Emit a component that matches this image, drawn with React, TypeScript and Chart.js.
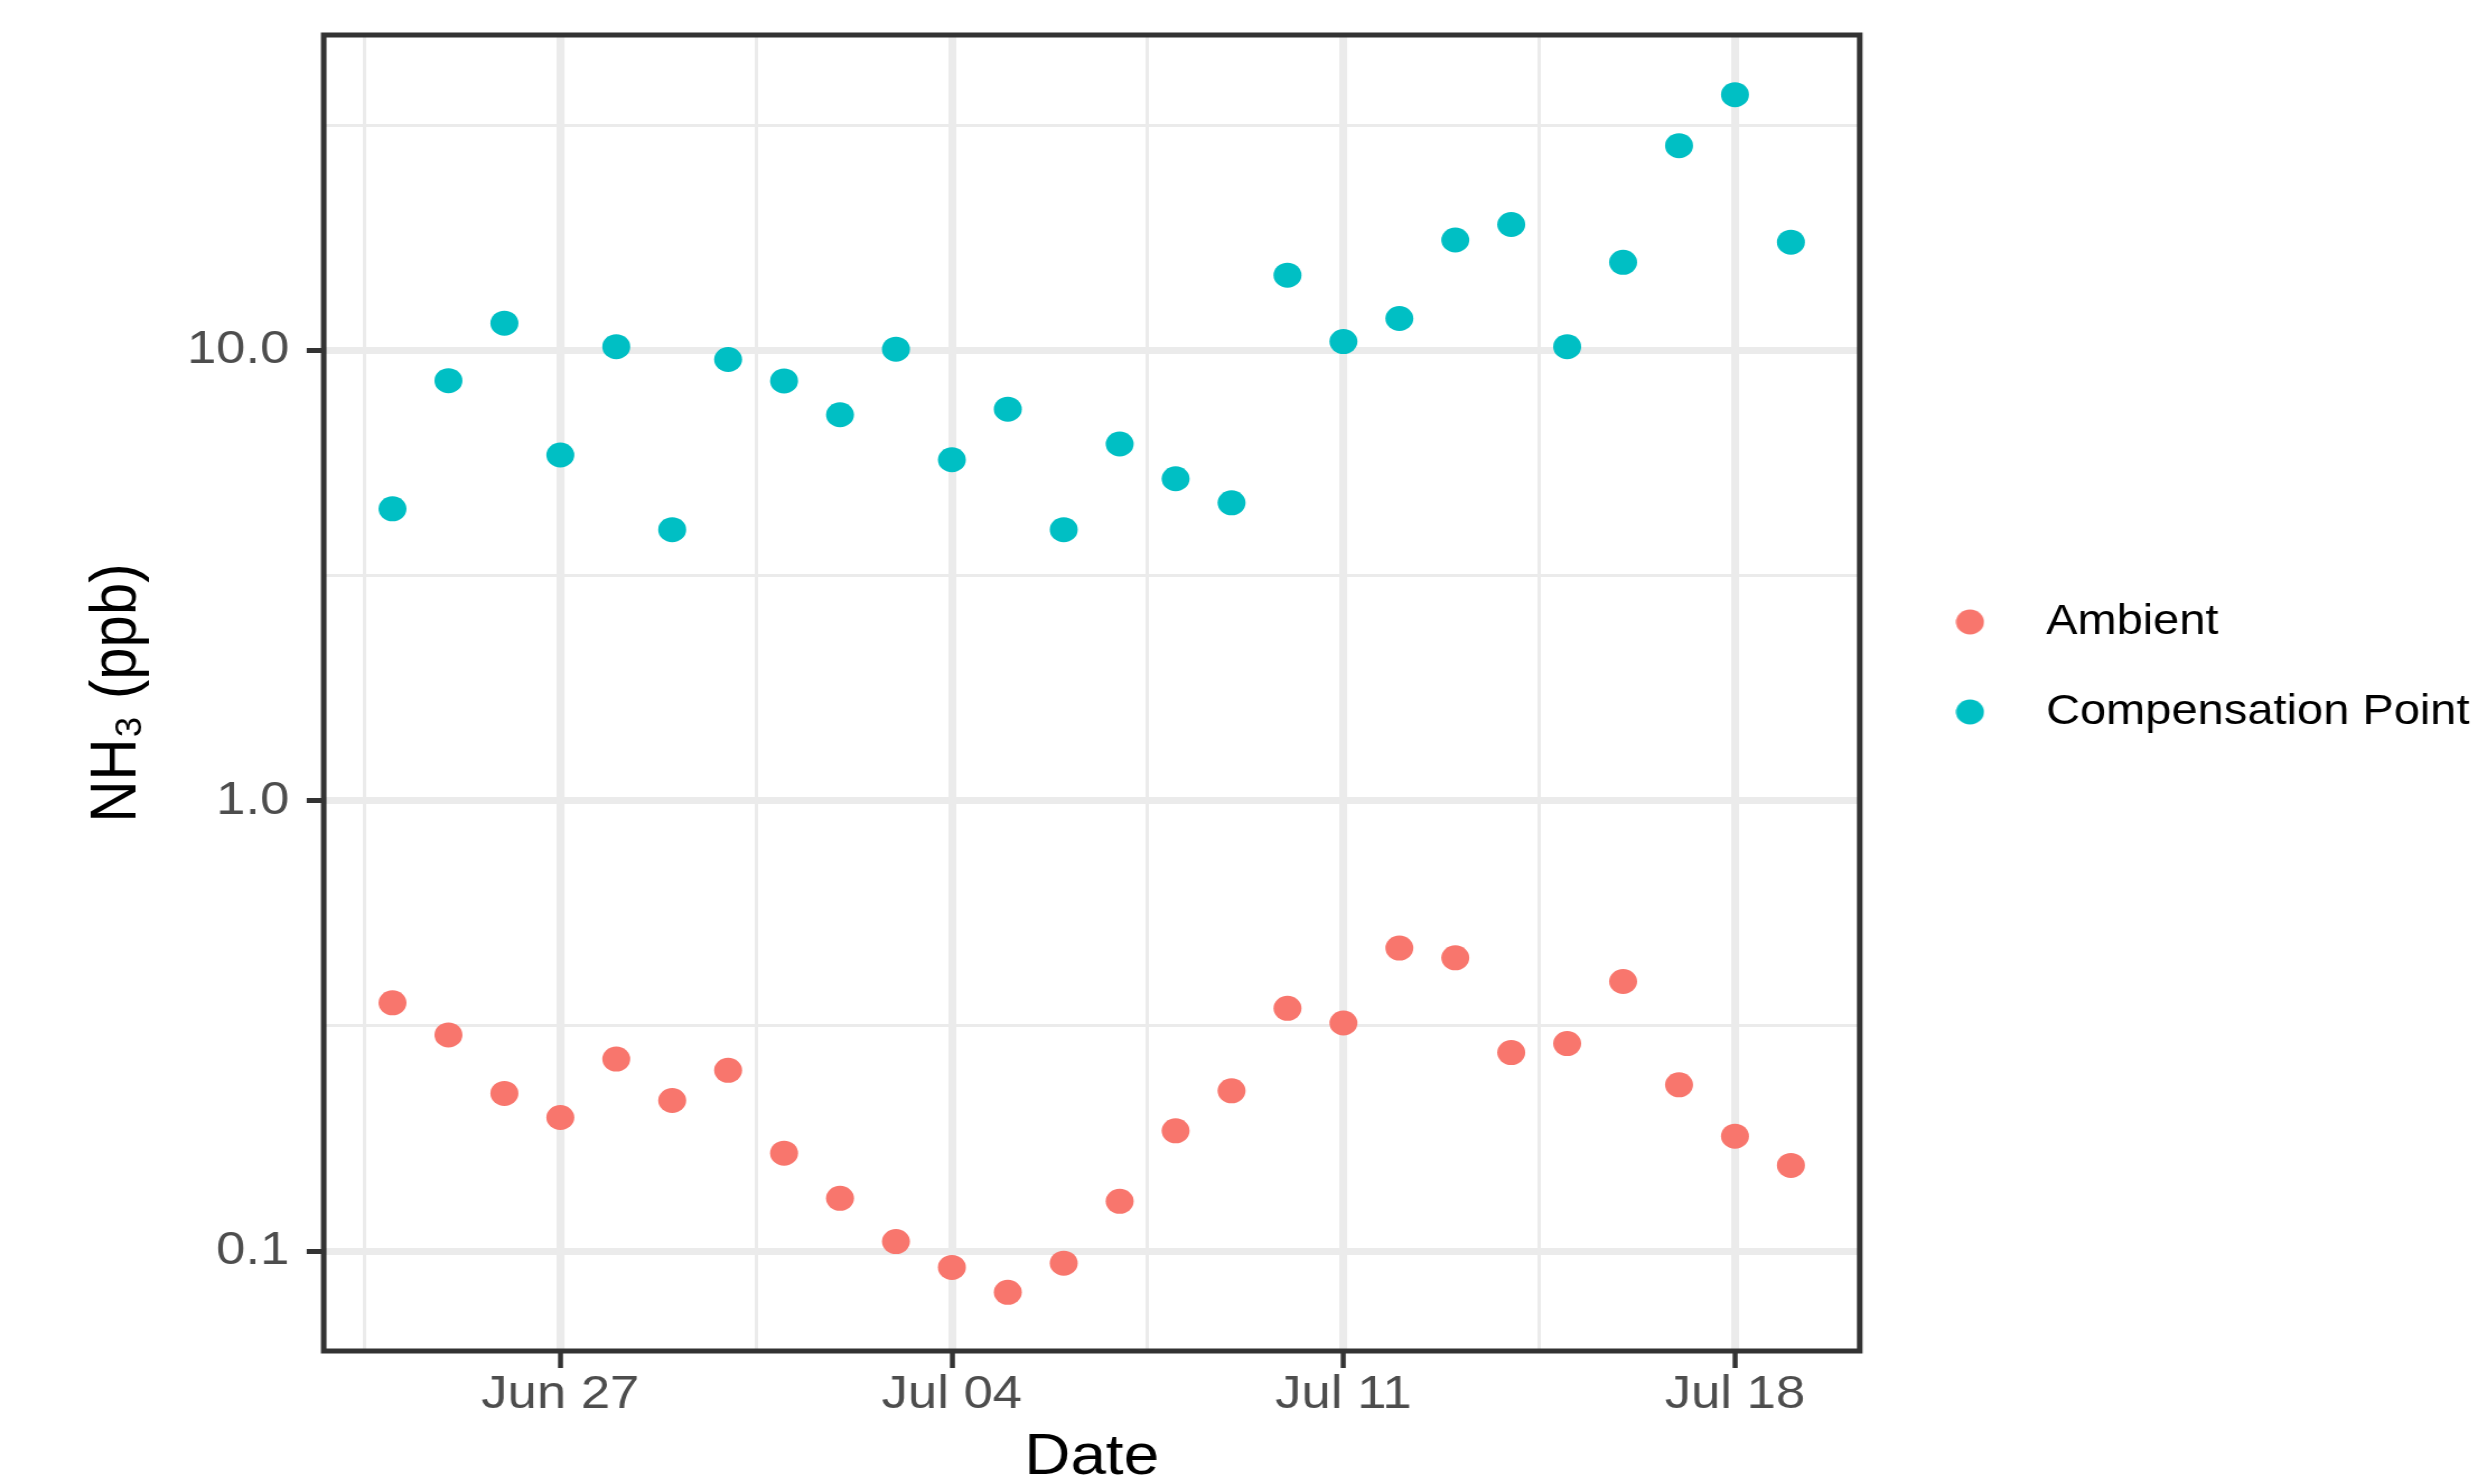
import React, { useEffect, useRef } from 'react';
import { Chart, registerables } from 'chart.js';

Chart.register(...registerables);

// ---------------- data ----------------
const dates = [
  '2019-06-24', '2019-06-25', '2019-06-26', '2019-06-27', '2019-06-28', '2019-06-29', '2019-06-30',
  '2019-07-01', '2019-07-02', '2019-07-03', '2019-07-04', '2019-07-05', '2019-07-06', '2019-07-07',
  '2019-07-08', '2019-07-09', '2019-07-10', '2019-07-11', '2019-07-12', '2019-07-13', '2019-07-14',
  '2019-07-15', '2019-07-16', '2019-07-17', '2019-07-18', '2019-07-19',
];
const ambient = [
  0.356, 0.302, 0.224, 0.198, 0.267, 0.216, 0.252,
  0.165, 0.131, 0.105, 0.092, 0.081, 0.094, 0.129,
  0.185, 0.227, 0.346, 0.321, 0.471, 0.448, 0.276,
  0.289, 0.397, 0.234, 0.180, 0.155,
];
const compensationPoint = [
  4.45, 8.57, 11.5, 5.86, 10.2, 4.0, 9.55,
  8.56, 7.2, 10.07, 5.72, 7.41, 4.0, 6.2,
  5.19, 4.59, 14.7, 10.47, 11.78, 17.6, 19.05,
  10.2, 15.7, 28.5, 37.0, 17.4,
];
const seriesNames = ['Ambient', 'Compensation Point'];
const seriesColors = ['#F8766D', '#00BFC4'];
const xTickDates = ['2019-06-27', '2019-07-04', '2019-07-11', '2019-07-18'];
const xTickLabels = ['Jun 27', 'Jul 04', 'Jul 11', 'Jul 18'];
const yTickValues = [0.1, 1, 10];
const yTickLabels = ['0.1', '1.0', '10.0'];

// ---------------- layout (page pixels) ----------------
const W = 2487;
const H = 1481;
const STRETCH = 1.12;
const CW = Math.round(W / STRETCH);
const sx = (v: number) => (v * CW) / W;
const PLOT = { left: 323.7, right: 1859.7, top: 35, bottom: 1351 };
const X_MIN = 22.77;
const X_MAX = 50.23;
const Y_MIN = 0.06;
const Y_MAX = 50.2;
const FONT = "'Liberation Sans', Arial, Helvetica, sans-serif";
const TICK_FONT = 47;
const LEGEND_FONT = 42;
const LEGEND_PAD = 48;

const DAY0 = Date.UTC(2019, 5, 0);
const toDay = (s: string) => Math.round((Date.parse(s + 'T00:00:00Z') - DAY0) / 86400000);

export default function App() {
  const ref = useRef<HTMLCanvasElement>(null);

  useEffect(() => {
    const canvas = ref.current;
    if (!canvas) return;

    const mkDot = (color: string) => {
      const c = document.createElement('canvas');
      c.width = 26;
      c.height = 26;
      const g = c.getContext('2d')!;
      g.fillStyle = color;
      g.beginPath();
      g.arc(13, 13, 12.5, 0, Math.PI * 2);
      g.fill();
      return c;
    };
    const legendDots = seriesColors.map(mkDot);

    const xs = dates.map(toDay);
    const majorX = xTickDates.map(toDay);
    const minorX = majorX.map((d) => d - 3.5);
    const minorY = yTickValues.map((v) => v * Math.sqrt(10));
    const isMajorX = (v: any) => v != null && majorX.some((m) => Math.abs(m - v) < 1e-6);
    const isMajorY = (v: any) =>
      v != null && yTickValues.some((m) => Math.abs(Math.log10(m) - Math.log10(v)) < 1e-6);

    const legendCenterX = sx(1970);
    const textStartX = sx(2046);
    const boxW = 2 * (textStartX - legendCenterX - LEGEND_FONT / 2);
    const legendLeft = legendCenterX - boxW / 2 - LEGEND_PAD;
    const legendTop = 622 - LEGEND_FONT / 2 - LEGEND_PAD;

    const panelBorder = {
      id: 'panelBorder',
      afterDatasetsDraw(chart: any) {
        const { ctx, chartArea: a } = chart;
        ctx.save();
        ctx.strokeStyle = '#333333';
        ctx.lineWidth = 5;
        ctx.strokeRect(a.left, a.top, a.right - a.left, a.bottom - a.top);
        ctx.restore();
      },
    };
    const placeLegend = {
      id: 'placeLegend',
      afterLayout(chart: any) {
        const lg = chart.legend;
        if (!lg) return;
        const w = lg.width;
        const h = lg.height;
        lg.left = legendLeft;
        lg.right = legendLeft + w;
        lg.top = legendTop;
        lg.bottom = legendTop + h;
      },
    };

    const seriesValues = [ambient, compensationPoint];

    const chart = new Chart(canvas, {
      type: 'scatter',
      data: {
        datasets: seriesNames.map((name, k) => ({
          label: name,
          data: xs.map((x, i) => ({ x, y: seriesValues[k][i] })),
          backgroundColor: seriesColors[k],
          borderColor: seriesColors[k],
          borderWidth: 0,
          pointRadius: 12.5,
          pointHoverRadius: 12.5,
          pointStyle: 'circle',
        })),
      },
      options: {
        responsive: false,
        maintainAspectRatio: false,
        animation: false,
        devicePixelRatio: 1,
        events: [],
        layout: {
          padding: { left: 0, top: PLOT.top, right: CW - sx(PLOT.right), bottom: 0 },
        },
        plugins: {
          tooltip: { enabled: false },
          title: { display: false },
          legend: {
            display: true,
            position: 'chartArea',
            align: 'start',
            labels: {
              usePointStyle: true,
              pointStyleWidth: boxW,
              boxHeight: LEGEND_FONT,
              padding: LEGEND_PAD,
              color: '#000000',
              font: { family: FONT, size: LEGEND_FONT },
              generateLabels: (ch: any) => {
                const items = (Chart as any).defaults.plugins.legend.labels.generateLabels(ch);
                items.forEach((it: any, i: number) => {
                  it.pointStyle = legendDots[i];
                  it.fontColor = '#000000';
                });
                return items;
              },
            },
          },
        },
        scales: {
          x: {
            type: 'linear',
            min: X_MIN,
            max: X_MAX,
            bounds: 'data',
            afterBuildTicks: (s: any) => {
              s.ticks = [...minorX, ...majorX].sort((a, b) => a - b).map((v) => ({ value: v }));
            },
            afterFit: (s: any) => {
              s.height = H - PLOT.bottom;
              s.paddingLeft = 0;
              s.paddingRight = 0;
            },
            border: { display: false },
            grid: {
              color: '#EBEBEB',
              lineWidth: (c: any) => (isMajorX(c.tick?.value) ? 7.1 : 3),
              drawTicks: true,
              tickLength: 17,
              tickWidth: sx(5),
              tickColor: (c: any) => (isMajorX(c.tick?.value) ? '#333333' : 'rgba(0,0,0,0)'),
            },
            ticks: {
              color: '#4D4D4D',
              font: { family: FONT, size: TICK_FONT },
              padding: -1,
              autoSkip: false,
              maxRotation: 0,
              minRotation: 0,
              callback: (v: any) => {
                const i = majorX.findIndex((m) => Math.abs(m - v) < 1e-6);
                return i >= 0 ? xTickLabels[i] : '';
              },
            },
            title: {
              display: true,
              text: 'Date',
              color: '#000000',
              font: { family: FONT, size: 57, lineHeight: 0.8 },
              padding: { top: 0, bottom: 0 },
            },
          },
          y: {
            type: 'logarithmic',
            min: Y_MIN,
            max: Y_MAX,
            bounds: 'data',
            afterBuildTicks: (s: any) => {
              s.ticks = [...yTickValues, ...minorY].sort((a, b) => a - b).map((v) => ({ value: v }));
            },
            afterFit: (s: any) => {
              s.width = sx(PLOT.left);
              s.paddingTop = 0;
              s.paddingBottom = 0;
            },
            border: { display: false },
            grid: {
              color: '#EBEBEB',
              lineWidth: (c: any) => (isMajorY(c.tick?.value) ? 7 : 3),
              drawTicks: true,
              tickLength: sx(17),
              tickWidth: 5,
              tickColor: (c: any) => (isMajorY(c.tick?.value) ? '#333333' : 'rgba(0,0,0,0)'),
            },
            ticks: {
              color: '#4D4D4D',
              font: { family: FONT, size: TICK_FONT },
              padding: sx(PLOT.left) - sx(17) - sx(289.3),
              autoSkip: false,
              callback: (v: any) => {
                const i = yTickValues.findIndex((m) => Math.abs(Math.log10(m) - Math.log10(v)) < 1e-6);
                return i >= 0 ? yTickLabels[i] : '';
              },
            },
            title: {
              display: true,
              text: 'NH₃ (ppb)',
              color: '#000000',
              font: { family: FONT, size: 58 },
              padding: { top: sx(118) - 0.6 * 58, bottom: 0 },
            },
          },
        },
      } as any,
      plugins: [panelBorder, placeLegend],
    });

    return () => {
      chart.destroy();
    };
  }, []);

  return (
    <div
      style={{
        position: 'absolute',
        left: 0,
        top: 0,
        width: W + 'px',
        height: H + 'px',
        background: '#ffffff',
        overflow: 'hidden',
      }}
    >
      <canvas
        ref={ref}
        width={CW}
        height={H}
        style={{ display: 'block', width: W + 'px', height: H + 'px' }}
      />
    </div>
  );
}
